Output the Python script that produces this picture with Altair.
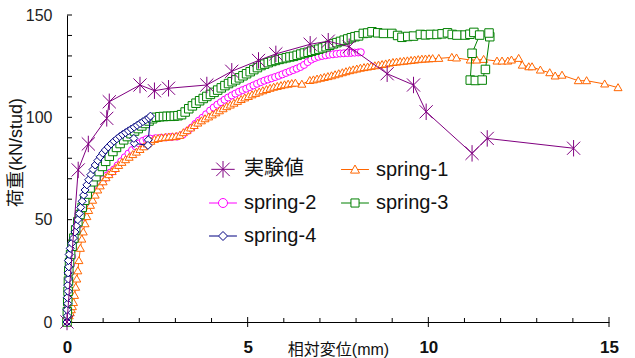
import altair as alt
import pandas as pd

FONT = "Liberation Sans, Arial, Noto Sans CJK JP"

names = ["実験値", "spring-1", "spring-2", "spring-3", "spring-4"]
colors = ["#800080", "#FF6600", "#FF00FF", "#008000", "#000080"]

# 実験値
exp_x = [0, 0.31, 0.59, 1.10, 1.17, 2.02, 2.42, 2.81, 3.87, 4.56, 5.30, 5.78, 6.73, 7.23, 7.81, 8.86, 9.59, 9.94, 11.21, 11.63, 14.02]
exp_y = [0, 74.3, 87.0, 99.5, 107.6, 115.8, 113.0, 114.2, 115.8, 122.5, 127.8, 131.0, 135.7, 137.2, 134.5, 121.3, 115.8, 102.7, 82.4, 89.7, 84.9]

# spring-1
s1_x = [0, 0.03, 0.06, 0.09, 0.12, 0.15, 0.18, 0.21, 0.24, 0.27, 0.30, 0.33, 0.37, 0.41, 0.45, 0.50, 0.55, 0.60, 0.65, 0.71,
        0.78, 0.85, 0.92, 1.00, 1.08, 1.16, 1.25, 1.34, 1.43, 1.52, 1.62, 1.72, 1.82, 1.92, 2.02, 2.12, 2.22, 2.32, 2.42, 2.52,
        2.62, 2.72, 2.82, 2.92, 3.02, 3.12, 3.22, 3.32, 3.42, 3.52, 3.62, 3.72, 3.82, 3.92, 4.02, 4.12, 4.22, 4.32, 4.42, 4.52,
        4.62, 4.72, 4.82, 4.92, 5.02, 5.12, 5.22, 5.32, 5.42, 5.52, 5.62, 5.72, 5.82, 5.92, 6.02, 6.12, 6.22, 6.32, 6.50, 6.72,
        6.82, 6.92, 7.02, 7.12, 7.22, 7.32, 7.42, 7.52, 7.62, 7.72, 7.82, 7.92, 8.02, 8.12, 8.22, 8.32, 8.42, 8.52, 8.62, 8.72,
        8.82, 8.92, 9.02, 9.12, 9.22, 9.32, 9.42, 9.52, 9.62, 9.72, 9.82, 9.92, 10.02, 10.12, 10.29, 10.65, 10.78, 11.16, 11.34, 11.53,
        11.90, 12.04, 12.20, 12.30, 12.50, 12.60, 12.78, 12.87, 13.10, 13.36, 13.51, 13.70, 14.15, 14.38, 14.88, 15.25]
s1_y = [0, 1.5, 3.0, 4.5, 6.0, 7.5, 9.5, 13.0, 17.0, 21.0, 25.0, 30.0, 36.0, 40.5, 44.0, 48.0, 51.5, 54.5, 57.0, 59.5,
        62.0, 64.5, 66.5, 68.5, 70.5, 72.0, 73.5, 75.0, 76.5, 78.0, 79.3, 80.5, 81.8, 83.0, 84.3, 85.6, 87.0, 88.3, 89.2, 89.7,
        90.0, 90.2, 90.4, 90.5, 90.7, 91.2, 92.5, 93.5, 94.8, 96.0, 97.2, 98.3, 99.3, 100.2, 101.2, 102.2, 103.2, 104.2, 105.2, 106.0,
        106.9, 107.8, 108.7, 109.5, 110.2, 111.0, 111.7, 112.4, 113.0, 113.6, 114.2, 114.7, 115.1, 115.5, 115.9, 116.2, 116.5, 116.7, 116.2, 118.0,
        118.3, 118.7, 119.1, 119.5, 119.9, 120.3, 120.8, 121.3, 121.8, 122.3, 122.8, 123.2, 123.6, 124.0, 124.3, 124.6, 124.9, 125.2, 125.5, 125.8,
        126.1, 126.5, 126.8, 127.0, 127.2, 127.4, 127.6, 127.8, 128.0, 128.2, 128.4, 128.5, 128.6, 128.7, 128.8, 129.3, 129.0, 128.0, 128.0, 128.3,
        127.5, 127.5, 127.5, 128.0, 128.8, 125.5, 124.7, 124.7, 123.1, 121.8, 120.2, 120.6, 117.9, 117.9, 116.3, 114.5]

# spring-2
s2_x = [0, 0.01, 0.02, 0.03, 0.04, 0.06, 0.08, 0.11, 0.14, 0.18, 0.22, 0.27, 0.32, 0.38, 0.44, 0.50, 0.56, 0.63, 0.70, 0.78,
        0.86, 0.94, 1.02, 1.10, 1.20, 1.30, 1.40, 1.50, 1.60, 1.70, 1.80, 1.90, 2.00, 2.10, 2.20, 2.30, 2.45, 2.60, 2.75, 2.90,
        3.05, 3.20, 3.35, 3.45, 3.55, 3.65, 3.75, 3.85, 3.96, 4.06, 4.16, 4.26, 4.36, 4.46, 4.56, 4.66, 4.76, 4.86, 4.96, 5.06,
        5.16, 5.26, 5.36, 5.46, 5.56, 5.66, 5.76, 5.86, 5.96, 6.06, 6.16, 6.26, 6.36, 6.46, 6.56, 6.66, 6.76, 6.86, 6.96, 7.06,
        7.16, 7.26, 7.36, 7.46, 7.56, 7.66, 7.76, 7.86, 7.96, 8.06, 8.13]
s2_y = [0, 4.0, 8.0, 12.0, 16.0, 20.0, 24.0, 28.0, 32.0, 36.0, 40.0, 44.0, 47.5, 51.0, 54.0, 56.5, 58.5, 60.5, 62.5, 64.5,
        66.5, 68.3, 70.0, 71.5, 73.0, 74.5, 76.5, 78.5, 80.5, 82.3, 84.0, 85.8, 87.3, 88.5, 89.3, 89.6, 89.8, 90.0, 90.2, 90.4,
        90.6, 91.5, 93.5, 95.0, 96.8, 98.4, 99.8, 101.5, 103.3, 104.8, 106.2, 107.4, 108.6, 109.7, 110.7, 111.6, 112.5, 113.3, 114.0, 114.8,
        115.6, 116.4, 117.2, 117.9, 118.5, 119.1, 119.7, 120.3, 121.0, 121.7, 122.4, 123.1, 123.8, 124.6, 125.6, 127.0, 128.2, 129.0, 129.6, 130.0,
        130.3, 130.6, 130.8, 131.0, 131.2, 131.3, 131.4, 131.5, 131.6, 131.7, 131.8]

# spring-3
s3_x = [0, 0.01, 0.02, 0.03, 0.04, 0.05, 0.07, 0.10, 0.14, 0.19, 0.24, 0.30, 0.36, 0.42, 0.49, 0.56, 0.64, 0.72, 0.80, 0.89,
        0.98, 1.07, 1.17, 1.27, 1.37, 1.47, 1.57, 1.67, 1.77, 1.87, 1.97, 2.07, 2.17, 2.27, 2.37, 2.47, 2.57, 2.67, 2.77, 2.87,
        2.97, 3.07, 3.17, 3.27, 3.37, 3.47, 3.57, 3.67, 3.77, 3.87, 3.97, 4.07, 4.17, 4.27, 4.37, 4.47, 4.57, 4.67, 4.77, 4.87,
        4.97, 5.07, 5.17, 5.27, 5.37, 5.47, 5.57, 5.67, 5.77, 5.87, 5.97, 6.07, 6.17, 6.27, 6.37, 6.47, 6.57, 6.67, 6.77, 6.87,
        6.97, 7.07, 7.17, 7.27, 7.37, 7.47, 7.57, 7.67, 7.77, 7.87, 7.97, 8.07, 8.20, 8.32, 8.44, 8.60, 8.76, 8.99, 9.15, 9.27,
        9.43, 9.59, 9.78, 9.92, 10.06, 10.24, 10.38, 10.53, 10.66, 10.79, 11.02, 11.15, 11.26, 11.42, 11.21, 11.16, 11.30, 11.49, 11.58, 11.70,
        11.68]
s3_y = [0, 5.0, 10.0, 15.0, 20.0, 25.0, 29.0, 33.0, 37.0, 41.0, 45.0, 49.0, 52.5, 56.0, 59.5, 62.5, 65.5, 68.5, 71.0, 73.5,
        76.0, 78.5, 81.0, 83.3, 85.3, 87.2, 89.0, 90.6, 92.0, 93.3, 94.5, 95.8, 97.0, 98.2, 99.3, 100.0, 100.3, 100.4, 100.5, 100.5,
        100.6, 100.8, 101.3, 102.6, 104.2, 105.6, 106.9, 108.1, 109.2, 110.2, 111.2, 112.2, 113.3, 114.4, 115.5, 116.5, 117.4, 118.3, 119.3, 120.3,
        121.3, 122.3, 123.3, 124.3, 125.3, 126.0, 126.7, 127.3, 127.8, 128.3, 128.7, 129.1, 129.5, 129.8, 130.3, 130.9, 131.4, 131.8, 132.3, 132.8,
        133.3, 133.9, 134.5, 135.2, 135.9, 136.5, 137.1, 137.7, 138.3, 138.9, 139.4, 139.8, 141.0, 141.2, 141.8, 141.3, 141.0, 141.0, 140.0, 139.1,
        139.5, 139.7, 140.5, 140.3, 140.5, 140.5, 140.8, 141.3, 140.5, 140.2, 140.2, 140.6, 141.5, 140.2, 131.3, 118.2, 118.0, 118.2, 123.4, 139.4,
        141.2]

# spring-4
s4_x = [0, 0.01, 0.00, 0.02, 0.01, 0.03, 0.02, 0.04, 0.03, 0.05, 0.04, 0.06, 0.09, 0.13, 0.18, 0.22, 0.26, 0.30, 0.34, 0.38,
        0.42, 0.46, 0.50, 0.55, 0.60, 0.66, 0.72, 0.78, 0.85, 0.92, 0.99, 1.06, 1.14, 1.22, 1.30, 1.38, 1.46, 1.54, 1.62, 1.70,
        1.78, 1.86, 1.94, 2.02, 2.10, 2.18, 2.26, 2.31, 2.25, 2.24, 1.86, 1.85]
s4_y = [0, 3.0, 6.0, 9.0, 12.0, 15.0, 18.0, 21.0, 24.0, 27.0, 30.0, 33.0, 36.0, 38.5, 41.0, 44.0, 47.0, 50.0, 53.0, 56.0,
        59.0, 62.0, 64.5, 67.0, 69.5, 72.0, 74.5, 76.7, 78.8, 80.7, 82.5, 84.0, 85.5, 87.0, 88.3, 89.5, 90.6, 91.6, 92.5, 93.4,
        94.3, 95.2, 96.1, 97.0, 97.9, 98.8, 99.7, 100.6, 89.0, 86.3, 87.3, 89.7]

y_ticks = list(range(0, 151, 10))
y_labels = [0, 50, 100, 150]
x_minor = [1, 2, 3, 4, 6, 7, 8, 9, 11, 12, 13, 14]
x_major = [0, 5, 10, 15]

W, H = 542, 307

# marker shapes
SH_AST = "M0,-1V1M-0.8,-0.8L0.8,0.8M-0.8,0.8L0.8,-0.8"
SH_TRI = "M0,-1L1,0.75L-1,0.75Z"
SH_DIA = "M0,-1L1,0L0,1L-1,0Z"
SH_SQ = "M-1,-1H1V1H-1Z"

LG_AST = "M-2.6,0H2.6M0,-1.85V1.85M-1.5,-1.5L1.5,1.5M-1.5,1.5L1.5,-1.5"
LG_TRI = "M-3.1,0H-0.55M0.55,0H3.1M0,-1L1,0.8L-1,0.8Z"
LG_CIR = "M-3.1,0H-1M1,0H3.1M-1,0A1,1,0,1,0,1,0A1,1,0,1,0,-1,0Z"
LG_SQ = "M-3.1,0H-0.9M0.9,0H3.1M-0.9,-0.9H0.9V0.9H-0.9Z"
LG_DIA = "M-3.1,0H-1M1,0H3.1M0,-1L1,0L0,1L-1,0Z"

xscale = alt.Scale(domain=[0, 15], nice=False, zero=False)
yscale = alt.Scale(domain=[0, 150], nice=False, zero=False)

xaxis = alt.Axis(values=x_major, format="d", ticks=False, tickSize=0, grid=False,
                 domainColor="#000000", domainWidth=1, labelFlush=False,
                 labelFontSize=17, labelFontWeight="bold", labelColor="#111111",
                 labelPadding=25, labelBaseline="middle",
                 title="相対変位(mm)", titleFontSize=16, titleFontWeight="normal",
                 titleColor="#111111", titleX=271, titleY=27,
                 titleAlign="center", titleBaseline="middle")
yaxis = alt.Axis(values=y_labels, format="d", ticks=False, tickSize=0, grid=False,
                 domainColor="#000000", domainWidth=1, labelFlush=False,
                 labelFontSize=16, labelColor="#222222", labelPadding=15,
                 title="荷重(kN/stud)", titleFontSize=18, titleFontWeight="normal",
                 titleColor="#111111", titleX=-51, titleY=137, titleAngle=270,
                 titleAlign="center", titleBaseline="middle")

X = alt.X("x:Q", scale=xscale, axis=xaxis)
Y = alt.Y("y:Q", scale=yscale, axis=yaxis)


def series_layer(xs, ys, color, shape, size, fill):
    df = pd.DataFrame({"x": xs, "y": ys, "i": list(range(len(xs)))})
    pt = alt.OverlayMarkDef(shape=shape, size=size, filled=False, fill=fill,
                            stroke=color, strokeWidth=1, opacity=1)
    return alt.Chart(df).mark_line(color=color, strokeWidth=1, point=pt).encode(
        x=X, y=Y, order="i:Q")


l_s2 = series_layer(s2_x, s2_y, colors[2], "circle", 50, "white")
l_s1 = series_layer(s1_x, s1_y, colors[1], SH_TRI, 64, "white")
l_s3 = series_layer(s3_x, s3_y, colors[3], SH_SQ, 72, "white")
l_s4 = series_layer(s4_x, s4_y, colors[4], SH_DIA, 64, "white")
l_ex = series_layer(exp_x, exp_y, colors[0], SH_AST, 270, "transparent")

# inward ticks
yt = alt.Chart(pd.DataFrame({"y": y_ticks})).mark_rule(color="#000000", strokeWidth=1).encode(
    y=Y, x=alt.value(0), x2=alt.value(5))
xt_minor = alt.Chart(pd.DataFrame({"x": x_minor})).mark_rule(color="#000000", strokeWidth=1).encode(
    x=X, y=alt.value(H - 4), y2=alt.value(H))
xt_major = alt.Chart(pd.DataFrame({"x": x_major})).mark_rule(color="#000000", strokeWidth=1).encode(
    x=X, y=alt.value(H - 5), y2=alt.value(H + 5))

# legend-only layer
leg = alt.Legend(title=None, orient="none", legendX=146, legendY=144, columns=2,
                 direction="horizontal",
                 symbolSize=81, symbolStrokeWidth=1, labelFontSize=20, labelColor="#111111",
                 labelOffset=11, rowPadding=13, columnPadding=22, padding=0,
                 labelLimit=200)
leg_df = pd.DataFrame({"s": names})
l_leg = alt.Chart(leg_df).mark_point(filled=False, opacity=1, strokeWidth=1).encode(
    color=alt.Color("s:N", scale=alt.Scale(domain=names, range=colors), legend=leg),
    shape=alt.Shape("s:N", scale=alt.Scale(domain=names, range=[LG_AST, LG_TRI, LG_CIR, LG_SQ, LG_DIA]), legend=leg),
).transform_filter("false")

chart = alt.layer(yt, xt_minor, xt_major, l_s2, l_s1, l_s3, l_s4, l_ex, l_leg).properties(
    width=W, height=H,
    autosize=alt.AutoSizeParams(type="none"),
    padding={"left": 67, "top": 15, "right": 26, "bottom": 36},
).configure(font=FONT).configure_view(stroke=None)

chart.save("out.html", embed_options={"renderer": "svg", "actions": False})
